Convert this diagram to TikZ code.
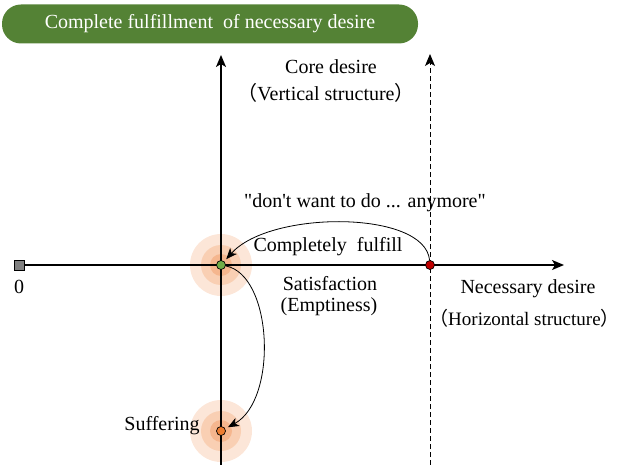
\documentclass[tikz,border=0pt]{standalone}
\usepackage{fontspec}
\setmainfont{Liberation Serif}
\newfontfamily\plainquotes{Liberation Serif}[Ligatures=TeXOff]
\newfontfamily\cjk{Noto Sans CJK SC}
\usetikzlibrary{arrows.meta}
\definecolor{bannergreen}{HTML}{548235}
\definecolor{haloA}{HTML}{FCE6D8}
\definecolor{haloB}{HTML}{F9CFB3}
\definecolor{haloC}{HTML}{F5B68E}
\definecolor{dotgreen}{HTML}{70AD47}
\definecolor{dotred}{HTML}{C00000}
\definecolor{dotorange}{HTML}{ED7D31}
\begin{document}
\begin{tikzpicture}[x=1pt,y=-1pt,
  lbl/.style={font=\fontsize{20}{24}\selectfont, inner sep=0pt},
  axis/.style={line width=1.5pt, -{Stealth[length=12pt,width=10pt,inset=3pt]}},
  dashaxis/.style={line width=1pt, dash pattern=on 5pt off 3pt, -{Stealth[length=12pt,width=10pt,inset=3pt]}},
  curved/.style={line width=0.8pt, -{Stealth[length=11pt,width=9pt,inset=3pt]}},
  dot/.style={circle, draw=black, line width=0.7pt, minimum size=9pt, inner sep=0pt},
  halo/.style={fill=#1, draw=none}
]
\useasboundingbox (0,0) rectangle (620,465);

% title banner
\node[fill=bannergreen, rounded corners=19pt, minimum width=416pt, minimum height=39pt,
      text=white, font=\fontsize{20}{24}\selectfont, inner sep=0pt]
  (banner) at (210,24) {Complete fulfillment~ of necessary desire};

% soft halos behind the two key points
\foreach \p in {(221,265),(221,431)} {
  \fill[halo=haloA] \p circle (31);
  \fill[halo=haloB] \p circle (20);
  \fill[halo=haloC] \p circle (11);
}

% axes
\node[draw, fill=gray, line width=0.7pt, minimum size=10pt, inner sep=0pt] (origin) at (19,265) {};
\coordinate (xend) at (564,265);
\coordinate (ybot) at (221,465);
\coordinate (ytop) at (221,55);
\coordinate (dbot) at (430,465);
\coordinate (dtop) at (430,54);
\draw[axis] (origin) -- (xend);
\draw[axis] (ybot) -- (ytop);
\draw[dashaxis] (dbot) -- (dtop);

% points
\node[dot, fill=dotgreen] (sat) at (221,265) {};
\node[dot, fill=dotred] (need) at (430,265) {};
\node[dot, fill=dotorange] (suf) at (221,431) {};

% transitions
\draw[curved, shorten >=3pt] (need) .. controls (425,210) and (270,210) .. (sat);
\draw[curved, shorten >=3pt] (sat) .. controls (273,275) and (278,400) .. (suf);

% labels
\node[lbl] (zero) at (19,287) {0};
\node[lbl] (core) at (331,67) {Core desire};
\node[lbl] (vert) at (326,93) {{\cjk （}Vertical structure{\cjk ）}};
\node[lbl, font=\fontsize{20}{24}\plainquotes] (quote) at (365,203) {"don't want to do ... anymore"};
\node[lbl] (fulfill) at (328,247) {Completely~ fulfill};
\node[lbl] (satlbl) at (330,284) {Satisfaction};
\node[lbl] (empty) at (329,307) {(Emptiness)};
\node[lbl] (nec) at (528,289) {Necessary desire};
\node[lbl, anchor=west, font=\fontsize{19}{23}\selectfont] (horiz) at (429,318) {{\cjk （}Horizontal structure{\cjk ）}};
\node[lbl] (suflbl) at (162,426) {Suffering};
\end{tikzpicture}
\end{document}
